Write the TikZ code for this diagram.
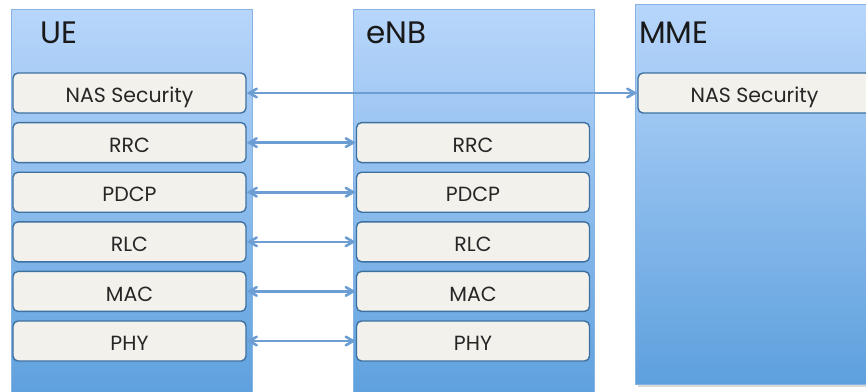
\documentclass[tikz,border=0pt]{standalone}
\usepackage{fontspec}
\setmainfont{Poppins}
\usetikzlibrary{positioning,calc,shadows,arrows}
\definecolor{coltop}{RGB}{184,214,251}
\definecolor{colbot}{RGB}{93,160,221}
\definecolor{colline}{RGB}{135,178,228}
\definecolor{layerfill}{RGB}{242,241,236}
\definecolor{layerdraw}{RGB}{62,112,160}
\definecolor{linkblue}{RGB}{108,158,212}
\begin{document}
\begin{tikzpicture}[x=1pt,y=-1pt]
    \tikzstyle{stack}=[draw=colline,line width=0.6,top color=coltop,bottom color=colbot,rectangle,minimum width=241,minimum height=390,inner sep=0,anchor=north west]
    \tikzstyle{layer}=[draw=layerdraw,line width=1.4,fill=layerfill,rounded corners=5,minimum width=233,minimum height=40,inner sep=0,text height=20pt,text depth=0.5pt,text=black!85,font=\fontsize{20.5}{24}\selectfont]
    \tikzstyle{title}=[anchor=base west,inner sep=0,text=black!90,font=\fontsize{31}{36}\selectfont]
    \tikzstyle{link}=[draw=linkblue,line width=2.6,>=angle 60]

    \useasboundingbox (0,0) rectangle (866,391);
    % protocol stacks
    \node[stack] (ue) at (11,9) {};
    \node[stack] (enb) at (353,9) {};
    \node[stack,drop shadow={opacity=0.3},minimum width=240,minimum height=380] (mme) at (635,4) {};

    \node[title] (uename) at (40,43) {UE};
    \node[title] (enbname) at (366,43) {eNB};
    \node[title] (mmename) at (639,43) {MME};

    % layers
    \foreach \name/\row in {RRC/1,PDCP/2,RLC/3,MAC/4,PHY/5} {
        \node[layer] (ue\row) at (129.5,93+49.6*\row) {\name};
        \node[layer] (enb\row) at (473,93+49.6*\row) {\name};
        \draw[link,<->] (ue\row) -- (enb\row);
    }
    \node[layer] (ue0) at (129.5,93) {NAS Security};
    \node[layer] (mme0) at (754.5,93) {NAS Security};
    \draw[link,<->] (ue0) -- (mme0);
\end{tikzpicture}
\end{document}
